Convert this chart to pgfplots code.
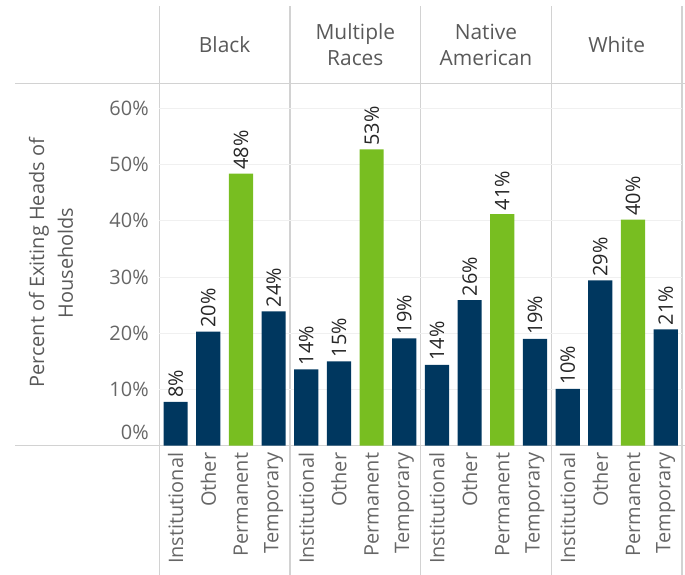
\documentclass[border=0pt]{standalone}
\usepackage{pgfplots}
\pgfplotsset{compat=1.18}
\usepackage{pgfplotstable}
\usepackage{fontspec}
\setmainfont{Open Sans}

\definecolor{navy}{HTML}{00375F}
\definecolor{lime}{HTML}{78BE21}
\definecolor{framec}{HTML}{D2D2D2}
\definecolor{gridc}{HTML}{F0F0F0}
\definecolor{tickc}{HTML}{666666}
\definecolor{hdrc}{HTML}{595959}

% exit destinations, 4 per race panel
\pgfplotstableread{
x    y
0.5  7.8
1.5  20.3
3.5  23.9
4.5  13.6
5.5  15.0
7.5  19.1
8.5  14.4
9.5  25.9
11.5 19.0
12.5 10.1
13.5 29.4
15.5 20.7
}\other
\pgfplotstableread{
x    y
2.5  48.4
6.5  52.7
10.5 41.2
14.5 40.2
}\permanent

\begin{document}
\begin{tikzpicture}
\path[use as bounding box] (0,0) rectangle (342.5bp,287.5bp);
% panel frame
\draw[framec, line width=0.6bp] (7.5bp,245.65bp) -- (342.5bp,245.65bp);
\draw[framec, line width=0.6bp] (7.5bp,64.65bp) -- (342.5bp,64.65bp);
\foreach \x in {79.65,145.0,210.35,275.7,341.0}
  \draw[framec, line width=0.6bp] (\x bp,0) -- (\x bp,284.5bp);

\begin{axis}[
  at={(79.65bp,64.65bp)}, anchor=south west,
  scale only axis,
  width=261.35bp, height=181bp,
  xmin=0, xmax=16,
  ymin=0, ymax=64.4,
  axis line style={draw=none},
  major tick length=0pt,
  clip=false,
  ymajorgrids,
  grid style={gridc, line width=0.5bp},
  ytick={10,20,30,40,50,60},
  yticklabels={10\%,20\%,30\%,40\%,50\%,60\%},
  extra y ticks={0},
  extra y tick labels={0\%},
  extra y tick style={grid=none, yticklabel style={yshift=6.85bp}},
  yticklabel style={font=\fontsize{10}{12}\selectfont, text=tickc, xshift=-1.8bp},
  xtick={0.5,1.5,...,15.5},
  xticklabels={Institutional,Other,Permanent,Temporary,
               Institutional,Other,Permanent,Temporary,
               Institutional,Other,Permanent,Temporary,
               Institutional,Other,Permanent,Temporary},
  xticklabel style={rotate=90, anchor=east, font=\fontsize{10}{12}\selectfont, text=tickc},
  nodes near coords={\pgfmathprintnumber[fixed,precision=0,assume math mode=true]{\pgfplotspointmeta}\%},
  nodes near coords style={rotate=90, anchor=west, inner xsep=1.8bp,
    font=\fontsize{10}{12}\selectfont, text=black!85},
]
\addplot[ybar, bar shift=0pt, bar width=0.74, fill=navy, draw=none] table {\other};
\addplot[ybar, bar shift=0pt, bar width=0.74, fill=lime, draw=none] table {\permanent};

\foreach \c/\t in {2/Black, 6/Multiple\\Races, 10/Native\\American, 14/White} {
  \edef\tmp{\noexpand\node[align=center, text=hdrc, font=\noexpand\fontsize{10.5}{13}\noexpand\selectfont, yshift=19.35bp] at (axis cs:\c,64.4) {\t};}
  \tmp
}
\end{axis}

\node[rotate=90, align=center, text=hdrc, font=\fontsize{10}{14.5}\selectfont]
  at (25.5bp,156bp) {Percent of Exiting Heads of\\Households};
\end{tikzpicture}
\end{document}
